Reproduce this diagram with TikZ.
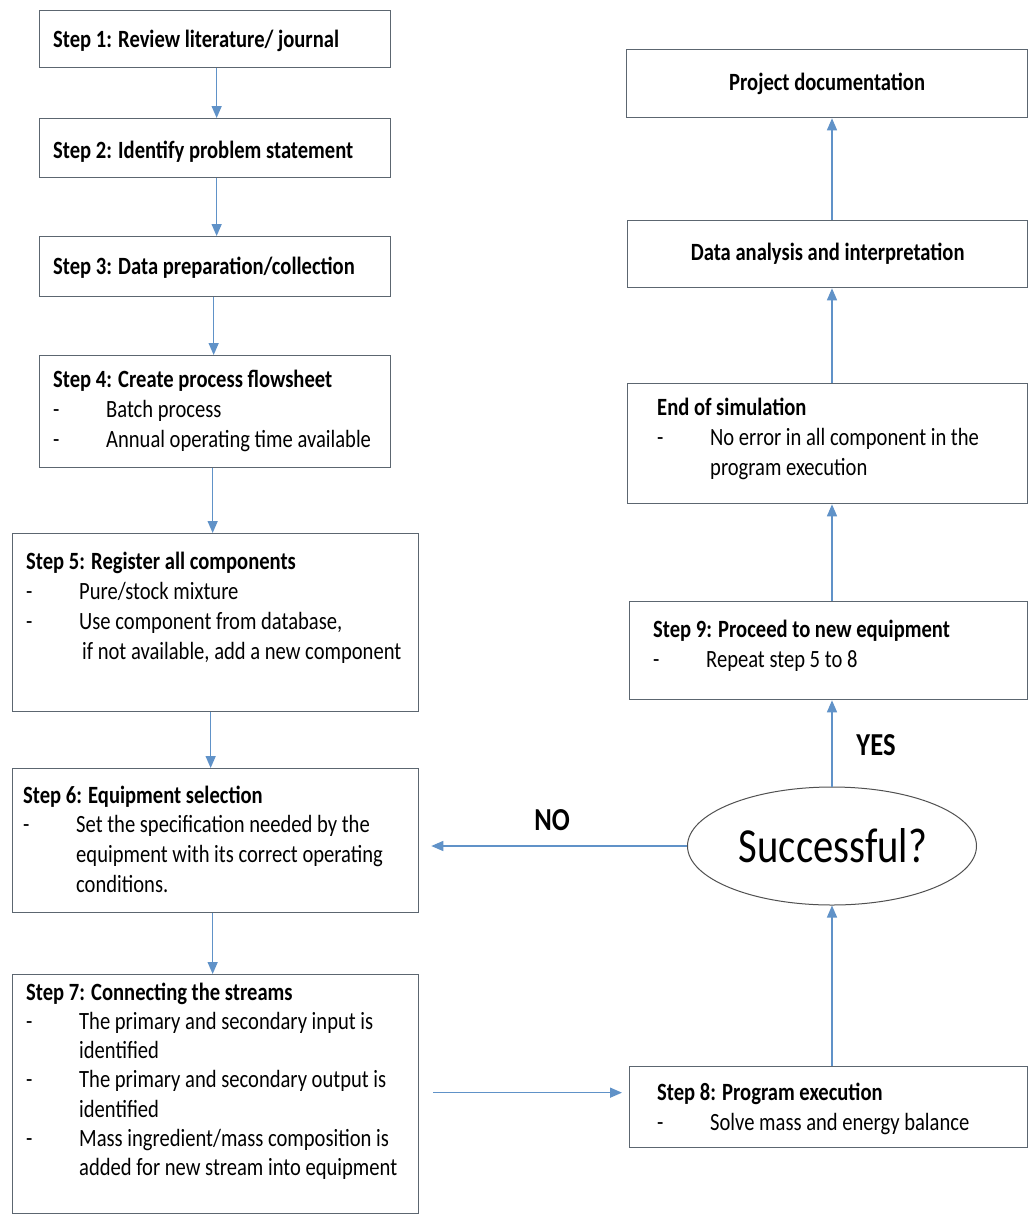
\documentclass[tikz,border=0pt]{standalone}
\usepackage{fontspec}
\setmainfont{Carlito}[FakeStretch=0.83]
\usetikzlibrary{arrows.meta,shapes.geometric}
\definecolor{boxline}{RGB}{92,102,112}
\definecolor{arrowc}{RGB}{96,146,200}
\definecolor{ellline}{RGB}{80,80,80}
\newcommand{\dashitem}{\makebox[53pt][l]{-}}
\newcommand{\indentitem}{\hspace*{53pt}}
\begin{document}
\begin{tikzpicture}[x=1pt,y=-1pt,
  stepbox/.style={draw=boxline, line width=1.3pt, rectangle, inner sep=0pt, anchor=north west, fill=white},
  txt/.style={inner sep=0pt, anchor=base west, font=\fontsize{24.8}{30}\selectfont},
  ctxt/.style={inner sep=0pt, font=\fontsize{24.8}{30}\selectfont\bfseries},
  arr/.style={draw=arrowc, line width=1.4pt, -{Triangle[length=12pt,width=10pt]}},
  lbl/.style={inner sep=0pt, font=\fontsize{32}{36}\selectfont\bfseries},
  decision/.style={ellipse, draw=ellline, line width=1pt, inner sep=0pt, fill=white}
]
\useasboundingbox (0,0) rectangle (1030,1216);
\fill[white] (0,0) rectangle (1030,1216);

% left column boxes
\node[stepbox, minimum width=351pt, minimum height=57pt] (s1) at (39,10) {};
\node[stepbox, minimum width=351pt, minimum height=59pt] (s2) at (39,118) {};
\node[stepbox, minimum width=351pt, minimum height=60pt] (s3) at (39,236) {};
\node[stepbox, minimum width=351pt, minimum height=112pt] (s4) at (39,355) {};
\node[stepbox, minimum width=406pt, minimum height=178pt] (s5) at (12,533) {};
\node[stepbox, minimum width=406pt, minimum height=144pt] (s6) at (12,768) {};
\node[stepbox, minimum width=406pt, minimum height=239pt] (s7) at (12,974) {};

% right column boxes
\node[stepbox, minimum width=401pt, minimum height=68pt] (pd) at (626,49) {};
\node[stepbox, minimum width=400pt, minimum height=67pt] (da) at (627,220) {};
\node[stepbox, minimum width=400pt, minimum height=120pt] (es) at (627,383) {};
\node[stepbox, minimum width=398pt, minimum height=98pt] (s9) at (629,601) {};
\node[stepbox, minimum width=398pt, minimum height=81pt] (s8) at (629,1066) {};
\node[decision, minimum width=289pt, minimum height=118pt] (el) at (832,846) {};

% texts
\node[txt] (t1) at (53,47) {\bfseries Step 1: Review literature/ journal};
\node[txt] (t2) at (53,158) {\bfseries Step 2: Identify problem statement};
\node[txt] (t3) at (53,274) {\bfseries Step 3: Data preparation/collection};
\node[txt] (t4) at (53,387) {\parbox[t]{340pt}{\raggedright
  \textbf{Step 4: Create process flowsheet}\\
  \dashitem Batch process\\
  \dashitem Annual operating time available}};
\node[txt] (t5) at (26,569) {\parbox[t]{390pt}{\raggedright
  \textbf{Step 5: Register all components}\\
  \dashitem Pure/stock mixture\\
  \dashitem Use component from database,\\
  \hspace*{56pt}if not available, add a new component}};
\node[txt, font=\fontsize{24.8}{29.7}\selectfont] (t6) at (23,803) {\parbox[t]{390pt}{\raggedright
  \textbf{Step 6: Equipment selection}\\
  \dashitem Set the specification needed by the\\
  \indentitem equipment with its correct operating\\
  \indentitem conditions.}};
\node[txt, font=\fontsize{24.8}{29.3}\selectfont] (t7) at (26,1000) {\parbox[t]{390pt}{\raggedright
  \textbf{Step 7: Connecting the streams}\\
  \dashitem The primary and secondary input is\\
  \indentitem identified\\
  \dashitem The primary and secondary output is\\
  \indentitem identified\\
  \dashitem Mass ingredient/mass composition is\\
  \indentitem added for new stream into equipment}};

\node[ctxt] (tpd) at (pd.center) {Project documentation};
\node[ctxt] (tda) at (da.center) {Data analysis and interpretation};
\node[txt] (tes) at (657,415) {\parbox[t]{365pt}{\raggedright
  \textbf{End of simulation}\\
  \dashitem No error in all component in the\\
  \indentitem program execution}};
\node[txt] (t9) at (653,637) {\parbox[t]{365pt}{\raggedright
  \textbf{Step 9: Proceed to new equipment}\\
  \dashitem Repeat step 5 to 8}};
\node[txt] (t8) at (657,1100) {\parbox[t]{365pt}{\raggedright
  \textbf{Step 8: Program execution}\\
  \dashitem Solve mass and energy balance}};
\node[inner sep=0pt, font=\fontsize{49}{55}\selectfont] (tel) at (833,846) {Successful?};

\node[lbl] (no) at (552,820) {NO};
\node[lbl] (yes) at (876,745) {YES};

% connectors left column
\draw[arr] ([xshift=1.5pt]s1.south) -- ([xshift=1.5pt]s2.north);
\draw[arr] ([xshift=1.5pt]s2.south) -- ([xshift=1.5pt]s3.north);
\draw[arr] ([xshift=-1.5pt]s3.south) -- ([xshift=-1.5pt]s4.north);
\draw[arr] ([xshift=-2.5pt]s4.south) -- ([xshift=-3pt]s5.north);
\draw[arr] ([xshift=-5pt]s5.south) -- ([xshift=-5pt]s6.north);
\draw[arr] ([xshift=-3pt]s6.south) -- ([xshift=-3pt]s7.north);
% step 7 to step 8
\draw[arr] ([xshift=14pt,yshift=1.5pt]s7.east) -- ([xshift=-7pt,yshift=14.5pt]s8.west);
% right column
\draw[arr] (el.south |- s8.north) -- (el.south);
\draw[arr] (el.north) -- (el.north |- s9.south);
\draw[arr] (el.north |- s9.north) -- (el.north |- es.south);
\draw[arr] (el.north |- es.north) -- (el.north |- da.south);
\draw[arr] (el.north |- da.north) -- (el.north |- pd.south);
% NO branch
\draw[arr, shorten >=12pt] (el.west) -- (el.west -| s6.east);
\end{tikzpicture}
\end{document}
